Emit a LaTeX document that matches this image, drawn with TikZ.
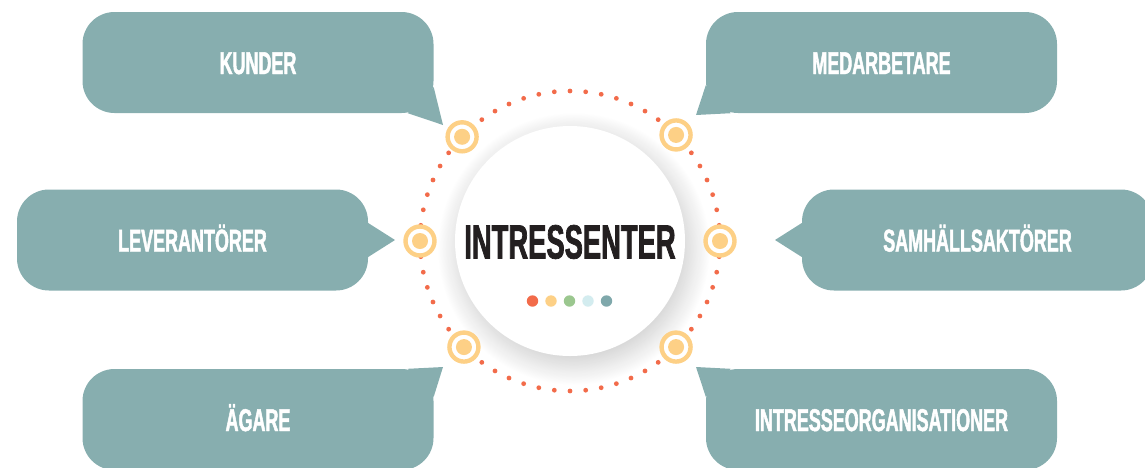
\documentclass[tikz,border=0pt]{standalone}
\usepackage{fontspec}
\setmainfont{Liberation Sans}[FakeStretch=0.57, FakeBold=1.5]
\usetikzlibrary{calc,shadows.blur}
\definecolor{bubblegray}{HTML}{87AEAF}
\definecolor{ringred}{HTML}{F26B4A}
\definecolor{ringyellow}{HTML}{FDD086}
\definecolor{dotgreen}{HTML}{9BC78F}
\definecolor{dotcyan}{HTML}{D3ECEF}
\definecolor{dotteal}{HTML}{7FA8AB}
\definecolor{hubtext}{HTML}{231F20}

\begin{document}
\begin{tikzpicture}[x=1pt, y=-1pt,
    bubble/.style={fill=bubblegray, rounded corners=32pt, minimum width=351pt, minimum height=101pt,
      inner sep=0pt, text=white, font=\bfseries\fontsize{31.5}{32}\selectfont, text height=23pt, text depth=0pt},
    tail/.style={fill=bubblegray},
    hub/.style={circle, fill=white, minimum size=230pt, inner sep=0pt, text=hubtext,
      font=\bfseries\fontsize{48}{48}\selectfont, text height=35pt, text depth=0pt,
      blur shadow={shadow xshift=4pt, shadow yshift=-8pt, shadow blur radius=22pt,
        shadow blur steps=30, shadow opacity=22}},
    target/.style={circle, draw=ringyellow, line width=4.4pt, fill=white, minimum size=29pt, inner sep=0pt}
  ]
  \useasboundingbox (0,0) rectangle (1145,467);

  % speech bubbles
  \node[bubble] (kunder) at (258, 62.5) {KUNDER};
  \node[bubble] (medarbetare) at (881.5, 62.5) {MEDARBETARE};
  \node[bubble] (leverantorer) at (192.5, 240) {LEVERANTÖRER};
  \node[bubble] (samhall) at (977.5, 240) {SAMHÄLLSAKTÖRER};
  \node[bubble] (agare) at (258, 419.5) {ÄGARE};
  \node[bubble] (intresse) at (881.5, 419.5) {INTRESSEORGANISATIONER};

  \coordinate (kunder tip) at (443, 125);
  \coordinate (medarbetare tip) at (696, 115);
  \coordinate (leverantorer tip) at (395, 240);
  \coordinate (samhall tip) at (775, 240);
  \coordinate (agare tip) at (443, 367);
  \coordinate (intresse tip) at (696, 367);

  \fill[tail] ([yshift=26pt]kunder.south east) -- (kunder tip) -- ([xshift=-26pt]kunder.south east) -- cycle;
  \fill[tail] ([yshift=28pt]medarbetare.south west) -- (medarbetare tip) -- ([xshift=25pt]medarbetare.south west) -- cycle;
  \fill[tail] ([yshift=17pt]leverantorer.east) -- (leverantorer tip) -- ([yshift=-17pt]leverantorer.east) -- cycle;
  \fill[tail] ([yshift=17pt]samhall.west) -- (samhall tip) -- ([yshift=-17pt]samhall.west) -- cycle;
  \fill[tail] ([xshift=-26pt]agare.north east) -- (agare tip) -- ([yshift=-28pt]agare.north east) -- cycle;
  \fill[tail] ([xshift=25pt]intresse.north west) -- (intresse tip) -- ([yshift=-28pt]intresse.north west) -- cycle;

  % centre
  \coordinate (mid) at (570, 241);
  \foreach \a in {0,6,...,354}
    \fill[ringred] ($(mid)+(\a:150)$) circle (2.4);
  \node[hub] (hub) at (mid) {INTRESSENTER};
  \foreach \c [count=\i] in {ringred,ringyellow,dotgreen,dotcyan,dotteal}
    \fill[\c] ($(hub.center)+(-56+18.5*\i, 60)$) circle (5.7);

  % targets on the ring
  \foreach \a [count=\i] in {224,315,180,0,135,45} {
    \node[target] (t\i) at ($(mid)+(\a:150)$) {};
    \fill[ringyellow] (t\i.center) circle (8);
  }
\end{tikzpicture}
\end{document}
